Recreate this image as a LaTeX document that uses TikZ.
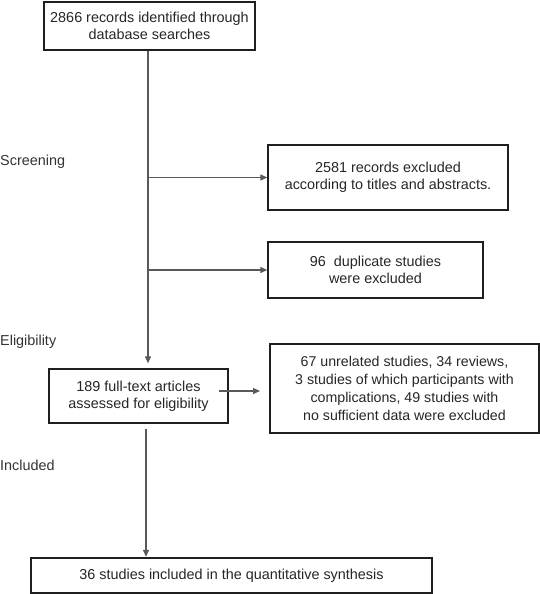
\documentclass[tikz,border=0pt]{standalone}
\usepackage{fontspec}
\setmainfont{Liberation Sans}
\usetikzlibrary{arrows.meta}
\begin{document}
\begin{tikzpicture}[x=1pt,y=-1pt,
  boxthick/.style={draw=black!88, line width=2.4pt, align=center, inner sep=0pt,
    font=\fontsize{14.4}{17}\selectfont, text=black!85},
  boxthin/.style={boxthick, line width=1.4pt},
  conn/.style={draw=black!65, line width=1.3pt},
  arr/.style={conn, -{Triangle[length=7pt,width=6pt]}},
  stage/.style={inner sep=0pt, font=\fontsize{14.4}{17}\selectfont, text=black!80, anchor=base west}]
\useasboundingbox (0,0) rectangle (540,594);

\node[boxthick, minimum width=211pt, minimum height=48pt] (id) at (149.5,26)
  {2866 records identified through\\database searches};
\node[boxthin, minimum width=240pt, minimum height=65pt] (ex1) at (388,177.5)
  {2581 records excluded\\according to titles and abstracts.};
\node[boxthin, minimum width=215pt, minimum height=56pt] (ex2) at (375.5,270)
  {96~ duplicate studies\\were excluded};
\node[boxthick, minimum width=179pt, minimum height=54pt] (ft) at (138.5,396)
  {189 full-text articles\\assessed for eligibility};
\node[boxthick, minimum width=269pt, minimum height=89pt,
  font=\fontsize{14.2}{18}\selectfont] (ex3) at (404.5,388.5)
  {67 unrelated studies, 34 reviews,\\3 studies of which participants with\\complications, 49 studies with\\no sufficient data were excluded};
\node[boxthick, minimum width=401pt, minimum height=35pt] (fin) at (231.5,575.5)
  {36 studies included in the quantitative synthesis};

\node[stage] (scr) at (0,165) {Screening};
\node[stage] (elig) at (0,345) {Eligibility};
\node[stage] (inc) at (0,470) {Included};

\coordinate (spine) at (148,0);
\coordinate (spinelow) at (146,0);
\coordinate (a3) at (219,391);

\draw[arr, shorten >=4.5pt] (spine |- id.south) -- (spine |- ft.north);
\draw[arr] (spine |- ex1.west) -- (ex1.west);
\draw[arr] (spine |- ex2.west) -- (ex2.west);
\draw[arr, shorten >=8.8pt] (a3) -- (a3 -| ex3.west);
\draw[arr, shorten <=5pt] (spinelow |- ft.south) -- (spinelow |- fin.north);
\end{tikzpicture}
\end{document}
